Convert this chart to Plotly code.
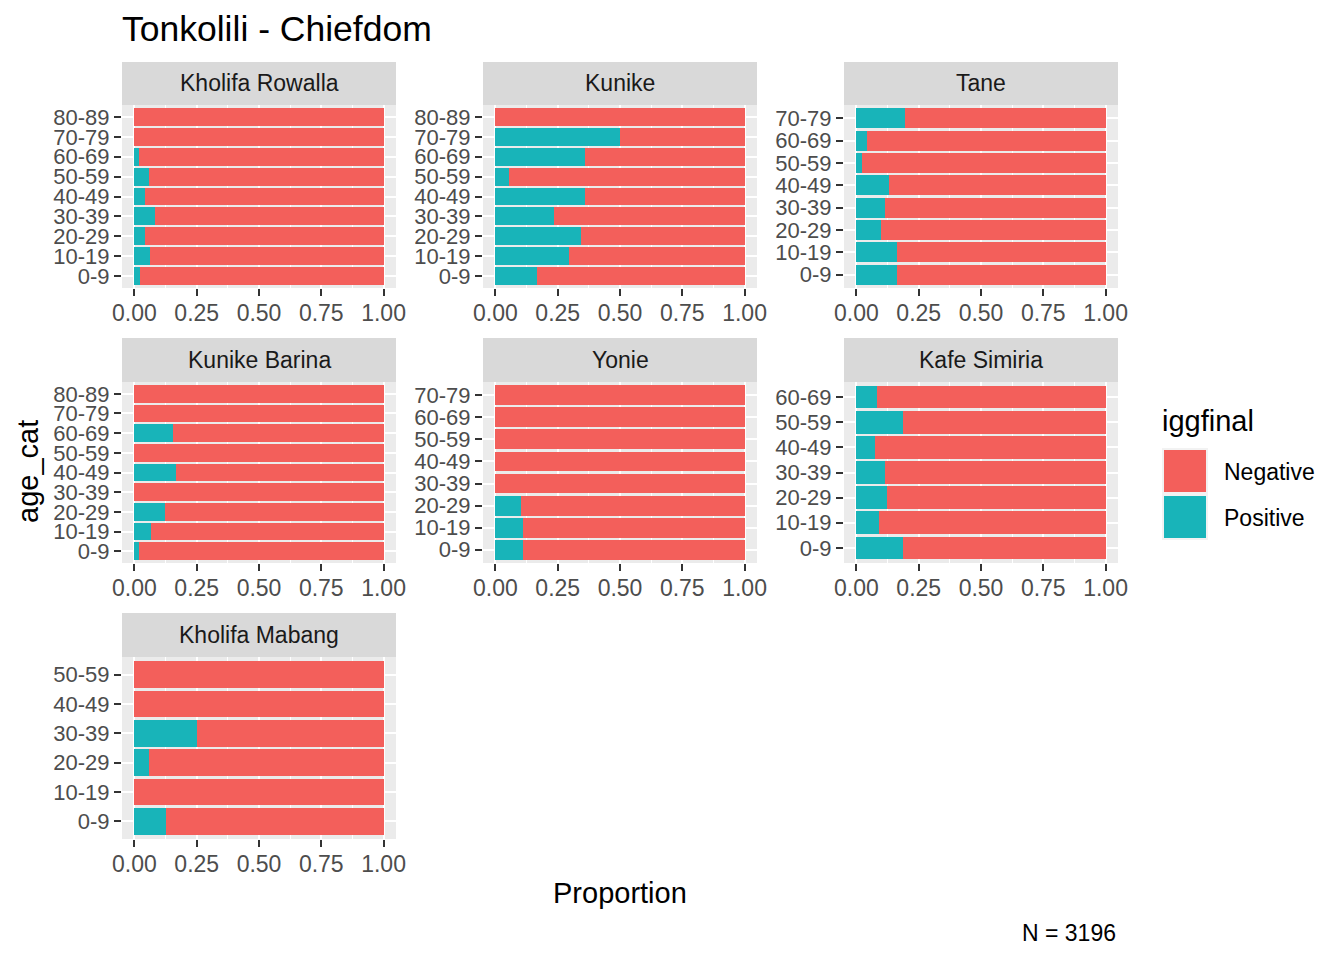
import plotly.graph_objects as go

# proportion of Positive per age group (0-9 at bottom); Negative = 1 - Positive
chiefdoms = ["Kholifa Rowalla", "Kunike", "Tane", "Kunike Barina",
             "Yonie", "Kafe Simiria", "Kholifa Mabang"]

ages_80 = ["0-9", "10-19", "20-29", "30-39", "40-49", "50-59", "60-69", "70-79", "80-89"]
ages_70 = ages_80[:8]
ages_60 = ages_80[:7]
ages_50 = ages_80[:6]

kholifa_rowalla_pos = [0.021, 0.062, 0.044, 0.083, 0.044, 0.059, 0.019, 0.0, 0.0]
kunike_pos = [0.168, 0.294, 0.343, 0.234, 0.359, 0.055, 0.359, 0.5, 0.0]
tane_pos = [0.161, 0.161, 0.097, 0.116, 0.129, 0.024, 0.044, 0.196]
kunike_barina_pos = [0.017, 0.068, 0.122, 0.0, 0.165, 0.0, 0.155, 0.0, 0.0]
yonie_pos = [0.109, 0.112, 0.101, 0.0, 0.0, 0.0, 0.0, 0.0]
kafe_simiria_pos = [0.185, 0.091, 0.124, 0.113, 0.075, 0.185, 0.082]
kholifa_mabang_pos = [0.125, 0.0, 0.058, 0.25, 0.0, 0.0]

panel_ages = [ages_80, ages_80, ages_70, ages_80, ages_70, ages_60, ages_50]
panel_pos = [kholifa_rowalla_pos, kunike_pos, tane_pos, kunike_barina_pos,
             yonie_pos, kafe_simiria_pos, kholifa_mabang_pos]

col_neg = "#F35F5B"
col_pos = "#18B4B9"
W, H = 1344, 960
FONT = "Liberation Sans, Arial, Helvetica, sans-serif"

def fx(p):
    return p / W

def fy(p):
    return 1 - p / H

cols = [(122, 396), (483, 757), (844, 1118)]
rows = [(62, 105, 288), (338, 382, 563), (613, 657, 839)]  # strip top, panel top, panel bottom

fig = go.Figure()
shapes = []
annotations = []

for i, name in enumerate(chiefdoms):
    r, c = divmod(i, 3)
    x0, x1 = cols[c]
    st, pt, pb = rows[r]
    ax = "" if i == 0 else str(i + 1)
    ages = panel_ages[i]
    pos = panel_pos[i]
    neg = [1 - v for v in pos]

    fig.add_trace(go.Bar(x=pos, y=ages, orientation="h", name="Positive",
                         marker=dict(color=col_pos, line=dict(width=0)),
                         xaxis="x" + ax, yaxis="y" + ax, showlegend=False))
    fig.add_trace(go.Bar(x=neg, y=ages, orientation="h", name="Negative",
                         marker=dict(color=col_neg, line=dict(width=0)),
                         xaxis="x" + ax, yaxis="y" + ax, showlegend=False))

    fig.layout["xaxis" + ax] = dict(
        domain=[fx(x0), fx(x1)], anchor="y" + ax, range=[-0.05, 1.05],
        tickmode="array", tickvals=[0, 0.25, 0.5, 0.75, 1],
        ticktext=["0.00", "0.25", "0.50", "0.75", "1.00"],
        ticks="outside", ticklen=7, tickwidth=2, tickcolor="#333333",
        ticklabelstandoff=-3,
        tickfont=dict(size=23, color="#4D4D4D", family=FONT),
        showgrid=True, gridcolor="white", gridwidth=2, zeroline=False, showline=False,
        minor=dict(tickvals=[0.125, 0.375, 0.625, 0.875], showgrid=True,
                   gridcolor="white", gridwidth=1, ticks=""),
        automargin=False, fixedrange=True,
    )
    fig.layout["yaxis" + ax] = dict(
        domain=[fy(pb), fy(pt)], anchor="x" + ax, type="category",
        categoryorder="array", categoryarray=ages, range=[-0.6, len(ages) - 0.4],
        tickmode="array", tickvals=ages, ticktext=ages,
        ticks="outside", ticklen=7, tickwidth=2, tickcolor="#333333",
        tickfont=dict(size=22, color="#4D4D4D", family=FONT),
        showgrid=True, gridcolor="white", gridwidth=2, zeroline=False, showline=False,
        automargin=False, fixedrange=True,
    )

    shapes.append(dict(type="rect", xref="paper", yref="paper",
                       x0=fx(x0), x1=fx(x1), y0=fy(pt), y1=fy(st),
                       fillcolor="#D9D9D9", line=dict(width=0), layer="below"))
    annotations.append(dict(text=name, xref="paper", yref="paper",
                            x=fx((x0 + x1) / 2), y=fy((st + pt) / 2),
                            xanchor="center", yanchor="middle", showarrow=False,
                            font=dict(size=23, color="#1A1A1A", family=FONT)))

# legend drawn by hand to get ggplot-sized keys
annotations.append(dict(text="iggfinal", xref="paper", yref="paper",
                        x=fx(1160), y=fy(421), xanchor="left", yanchor="middle",
                        showarrow=False, font=dict(size=29, color="black", family=FONT)))
for k, (lab, colr) in enumerate([("Negative", col_neg), ("Positive", col_pos)]):
    top = 448 + k * 46
    shapes.append(dict(type="rect", xref="paper", yref="paper",
                       x0=fx(1162), x1=fx(1208), y0=fy(top + 46), y1=fy(top),
                       fillcolor="#F2F2F2", line=dict(width=0)))
    shapes.append(dict(type="rect", xref="paper", yref="paper",
                       x0=fx(1164), x1=fx(1206), y0=fy(top + 44), y1=fy(top + 2),
                       fillcolor=colr, line=dict(width=0)))
    annotations.append(dict(text=lab, xref="paper", yref="paper",
                            x=fx(1222), y=fy(top + 24), xanchor="left", yanchor="middle",
                            showarrow=False, font=dict(size=23, color="black", family=FONT)))

annotations += [
    dict(text="Tonkolili - Chiefdom", xref="paper", yref="paper", x=fx(120), y=fy(29),
         xanchor="left", yanchor="middle", showarrow=False,
         font=dict(size=35.5, color="black", family=FONT)),
    dict(text="Proportion", xref="paper", yref="paper", x=fx(620), y=fy(893),
         xanchor="center", yanchor="middle", showarrow=False,
         font=dict(size=29, color="black", family=FONT)),
    dict(text="age_cat", xref="paper", yref="paper", x=fx(28), y=fy(472),
         xanchor="center", yanchor="middle", showarrow=False, textangle=-90,
         font=dict(size=29, color="black", family=FONT)),
    dict(text="N = 3196", xref="paper", yref="paper", x=fx(1118), y=fy(933),
         xanchor="right", yanchor="middle", showarrow=False,
         font=dict(size=23, color="black", family=FONT)),
]

fig.update_layout(
    width=W, height=H, margin=dict(l=0, r=0, t=0, b=0, autoexpand=False),
    barmode="stack", bargap=0.1,
    plot_bgcolor="#EBEBEB", paper_bgcolor="white",
    shapes=shapes, annotations=annotations,
    showlegend=False, font=dict(family=FONT),
)

# drop the browser's default 8px body margin so the figure sits at the page corner
fig.write_html("out.html", config={"displayModeBar": False},
               post_script="document.body.style.margin='0';")
